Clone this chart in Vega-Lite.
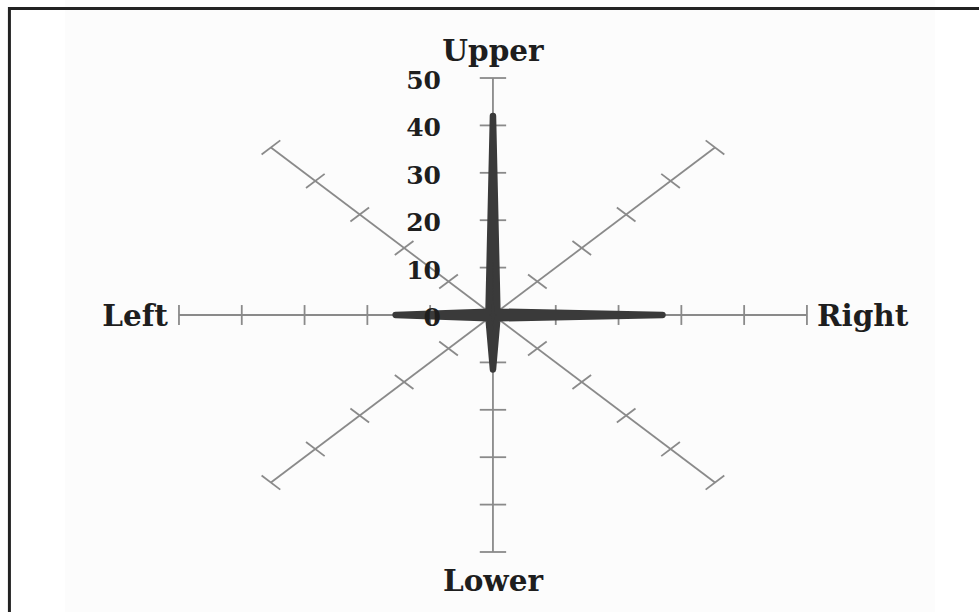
{
  "$schema": "https://vega.github.io/schema/vega-lite/v6.json",
  "width": 979,
  "height": 612,
  "autosize": {"type": "fit", "contains": "padding"},
  "padding": 0,
  "background": "white",
  "config": {"view": {"stroke": null}},
  "datasets": {
    "spokes": [
      {"dir": "Right", "angle": 0, "r0": 0, "r": 50},
      {"dir": "UpperRight", "angle": 45, "r0": 0, "r": 50},
      {"dir": "Upper", "angle": 90, "r0": 0, "r": 50},
      {"dir": "UpperLeft", "angle": 135, "r0": 0, "r": 50},
      {"dir": "Left", "angle": 180, "r0": 0, "r": 50},
      {"dir": "LowerLeft", "angle": 225, "r0": 0, "r": 50},
      {"dir": "Lower", "angle": 270, "r0": 0, "r": 50},
      {"dir": "LowerRight", "angle": 315, "r0": 0, "r": 50}
    ],
    "ticks": [
      {"angle": 0, "r": 10}, {"angle": 0, "r": 20}, {"angle": 0, "r": 30}, {"angle": 0, "r": 40}, {"angle": 0, "r": 50},
      {"angle": 45, "r": 10}, {"angle": 45, "r": 20}, {"angle": 45, "r": 30}, {"angle": 45, "r": 40}, {"angle": 45, "r": 50},
      {"angle": 90, "r": 10}, {"angle": 90, "r": 20}, {"angle": 90, "r": 30}, {"angle": 90, "r": 40}, {"angle": 90, "r": 50},
      {"angle": 135, "r": 10}, {"angle": 135, "r": 20}, {"angle": 135, "r": 30}, {"angle": 135, "r": 40}, {"angle": 135, "r": 50},
      {"angle": 180, "r": 10}, {"angle": 180, "r": 20}, {"angle": 180, "r": 30}, {"angle": 180, "r": 40}, {"angle": 180, "r": 50},
      {"angle": 225, "r": 10}, {"angle": 225, "r": 20}, {"angle": 225, "r": 30}, {"angle": 225, "r": 40}, {"angle": 225, "r": 50},
      {"angle": 270, "r": 10}, {"angle": 270, "r": 20}, {"angle": 270, "r": 30}, {"angle": 270, "r": 40}, {"angle": 270, "r": 50},
      {"angle": 315, "r": 10}, {"angle": 315, "r": 20}, {"angle": 315, "r": 30}, {"angle": 315, "r": 40}, {"angle": 315, "r": 50}
    ],
    "scores": [
      {"dir": "Right", "angle": 0, "value": 27, "order": 1},
      {"dir": "UpperRight", "angle": 45, "value": 1, "order": 2},
      {"dir": "Upper", "angle": 90, "value": 42, "order": 3},
      {"dir": "UpperLeft", "angle": 135, "value": 1, "order": 4},
      {"dir": "Left", "angle": 180, "value": 15.5, "order": 5},
      {"dir": "LowerLeft", "angle": 225, "value": 1, "order": 6},
      {"dir": "Lower", "angle": 270, "value": 11.5, "order": 7},
      {"dir": "LowerRight", "angle": 315, "value": 1, "order": 8}
    ],
    "scaleLabels": [
      {"angle": 90, "r": 0, "label": "0"},
      {"angle": 90, "r": 10, "label": "10"},
      {"angle": 90, "r": 20, "label": "20"},
      {"angle": 90, "r": 30, "label": "30"},
      {"angle": 90, "r": 40, "label": "40"},
      {"angle": 90, "r": 50, "label": "50"}
    ]
  },
  "layer": [
    {
      "data": {"values": [{}]},
      "mark": {"type": "rect", "fill": "#fcfcfc", "clip": true},
      "encoding": {
        "x": {"datum": -68.15, "type": "quantitative", "scale": {"domain": [-78.5, 77.4], "nice": false, "zero": false}, "axis": null},
        "x2": {"datum": 70.4},
        "y": {"datum": 80, "type": "quantitative", "scale": {"domain": [-62.66, 66.46], "nice": false, "zero": false}, "axis": null},
        "y2": {"datum": -80}
      }
    },
    {
      "data": {"values": [{}]},
      "mark": {"type": "rect", "filled": false, "stroke": "#222222", "strokeWidth": 3, "clip": true},
      "encoding": {
        "x": {"datum": -77.0, "type": "quantitative", "scale": {"domain": [-78.5, 77.4], "nice": false, "zero": false}, "axis": null},
        "x2": {"datum": 200},
        "y": {"datum": 64.66, "type": "quantitative", "scale": {"domain": [-62.66, 66.46], "nice": false, "zero": false}, "axis": null},
        "y2": {"datum": -200}
      }
    },
    {
      "data": {"name": "spokes"},
      "transform": [
        {"calculate": "datum.r0 * cos(datum.angle * PI / 180)", "as": "sx"},
        {"calculate": "datum.r0 * sin(datum.angle * PI / 180)", "as": "sy"},
        {"calculate": "datum.r * cos(datum.angle * PI / 180)", "as": "ex"},
        {"calculate": "datum.r * sin(datum.angle * PI / 180)", "as": "ey"}
      ],
      "mark": {"type": "rule", "stroke": "#8a8a8a", "strokeWidth": 1.8},
      "encoding": {
        "x": {"field": "sx", "type": "quantitative", "scale": {"domain": [-78.5, 77.4], "nice": false, "zero": false}, "axis": null},
        "y": {"field": "sy", "type": "quantitative", "scale": {"domain": [-62.66, 66.46], "nice": false, "zero": false}, "axis": null},
        "x2": {"field": "ex"},
        "y2": {"field": "ey"}
      }
    },
    {
      "data": {"name": "ticks"},
      "transform": [
        {"calculate": "datum.r * cos(datum.angle * PI / 180) + 2.1 * sin(datum.angle * PI / 180)", "as": "tx1"},
        {"calculate": "datum.r * sin(datum.angle * PI / 180) - 2.1 * cos(datum.angle * PI / 180)", "as": "ty1"},
        {"calculate": "datum.r * cos(datum.angle * PI / 180) - 2.1 * sin(datum.angle * PI / 180)", "as": "tx2"},
        {"calculate": "datum.r * sin(datum.angle * PI / 180) + 2.1 * cos(datum.angle * PI / 180)", "as": "ty2"}
      ],
      "mark": {"type": "rule", "stroke": "#8a8a8a", "strokeWidth": 1.8},
      "encoding": {
        "x": {"field": "tx1", "type": "quantitative", "scale": {"domain": [-78.5, 77.4], "nice": false, "zero": false}, "axis": null},
        "y": {"field": "ty1", "type": "quantitative", "scale": {"domain": [-62.66, 66.46], "nice": false, "zero": false}, "axis": null},
        "x2": {"field": "tx2"},
        "y2": {"field": "ty2"}
      }
    },
    {
      "data": {"name": "scores"},
      "transform": [
        {"calculate": "datum.value * cos(datum.angle * PI / 180)", "as": "px"},
        {"calculate": "datum.value * sin(datum.angle * PI / 180)", "as": "py"}
      ],
      "mark": {"type": "line", "interpolate": "linear-closed", "stroke": "#3a3a3a", "fill": "#3a3a3a", "strokeWidth": 6.5, "strokeJoin": "round", "strokeCap": "round"},
      "encoding": {
        "x": {"field": "px", "type": "quantitative", "scale": {"domain": [-78.5, 77.4], "nice": false, "zero": false}, "axis": null},
        "y": {"field": "py", "type": "quantitative", "scale": {"domain": [-62.66, 66.46], "nice": false, "zero": false}, "axis": null},
        "order": {"field": "order", "type": "quantitative"}
      }
    },
    {
      "data": {"name": "scaleLabels"},
      "transform": [
        {"calculate": "datum.r * cos(datum.angle * PI / 180)", "as": "lx"},
        {"calculate": "datum.r * sin(datum.angle * PI / 180)", "as": "ly"}
      ],
      "mark": {"type": "text", "font": "DejaVu Serif", "fontSize": 25, "fontWeight": "bold", "fill": "#1e1e1e", "align": "right", "baseline": "alphabetic", "dx": -52, "dy": 11},
      "encoding": {
        "x": {"field": "lx", "type": "quantitative", "scale": {"domain": [-78.5, 77.4], "nice": false, "zero": false}, "axis": null},
        "y": {"field": "ly", "type": "quantitative", "scale": {"domain": [-62.66, 66.46], "nice": false, "zero": false}, "axis": null},
        "text": {"field": "label", "type": "nominal"}
      }
    },
    {
      "data": {"name": "spokes"},
      "transform": [
        {"filter": "datum.dir == 'Upper'"},
        {"calculate": "datum.r * cos(datum.angle * PI / 180)", "as": "ex"},
        {"calculate": "datum.r * sin(datum.angle * PI / 180)", "as": "ey"}
      ],
      "mark": {"type": "text", "font": "DejaVu Serif", "fontSize": 29.5, "fontWeight": "bold", "fill": "#1e1e1e", "align": "center", "baseline": "alphabetic", "dy": -17},
      "encoding": {
        "x": {"field": "ex", "type": "quantitative", "scale": {"domain": [-78.5, 77.4], "nice": false, "zero": false}, "axis": null},
        "y": {"field": "ey", "type": "quantitative", "scale": {"domain": [-62.66, 66.46], "nice": false, "zero": false}, "axis": null},
        "text": {"field": "dir", "type": "nominal"}
      }
    },
    {
      "data": {"name": "spokes"},
      "transform": [
        {"filter": "datum.dir == 'Lower'"},
        {"calculate": "datum.r * cos(datum.angle * PI / 180)", "as": "ex"},
        {"calculate": "datum.r * sin(datum.angle * PI / 180)", "as": "ey"}
      ],
      "mark": {"type": "text", "font": "DejaVu Serif", "fontSize": 29.5, "fontWeight": "bold", "fill": "#1e1e1e", "align": "center", "baseline": "alphabetic", "dy": 39},
      "encoding": {
        "x": {"field": "ex", "type": "quantitative", "scale": {"domain": [-78.5, 77.4], "nice": false, "zero": false}, "axis": null},
        "y": {"field": "ey", "type": "quantitative", "scale": {"domain": [-62.66, 66.46], "nice": false, "zero": false}, "axis": null},
        "text": {"field": "dir", "type": "nominal"}
      }
    },
    {
      "data": {"name": "spokes"},
      "transform": [
        {"filter": "datum.dir == 'Left'"},
        {"calculate": "datum.r * cos(datum.angle * PI / 180)", "as": "ex"},
        {"calculate": "datum.r * sin(datum.angle * PI / 180)", "as": "ey"}
      ],
      "mark": {"type": "text", "font": "DejaVu Serif", "fontSize": 29.5, "fontWeight": "bold", "fill": "#1e1e1e", "align": "right", "baseline": "alphabetic", "dx": -11, "dy": 11},
      "encoding": {
        "x": {"field": "ex", "type": "quantitative", "scale": {"domain": [-78.5, 77.4], "nice": false, "zero": false}, "axis": null},
        "y": {"field": "ey", "type": "quantitative", "scale": {"domain": [-62.66, 66.46], "nice": false, "zero": false}, "axis": null},
        "text": {"field": "dir", "type": "nominal"}
      }
    },
    {
      "data": {"name": "spokes"},
      "transform": [
        {"filter": "datum.dir == 'Right'"},
        {"calculate": "datum.r * cos(datum.angle * PI / 180)", "as": "ex"},
        {"calculate": "datum.r * sin(datum.angle * PI / 180)", "as": "ey"}
      ],
      "mark": {"type": "text", "font": "DejaVu Serif", "fontSize": 29.5, "fontWeight": "bold", "fill": "#1e1e1e", "align": "left", "baseline": "alphabetic", "dx": 10, "dy": 11},
      "encoding": {
        "x": {"field": "ex", "type": "quantitative", "scale": {"domain": [-78.5, 77.4], "nice": false, "zero": false}, "axis": null},
        "y": {"field": "ey", "type": "quantitative", "scale": {"domain": [-62.66, 66.46], "nice": false, "zero": false}, "axis": null},
        "text": {"field": "dir", "type": "nominal"}
      }
    }
  ]
}
